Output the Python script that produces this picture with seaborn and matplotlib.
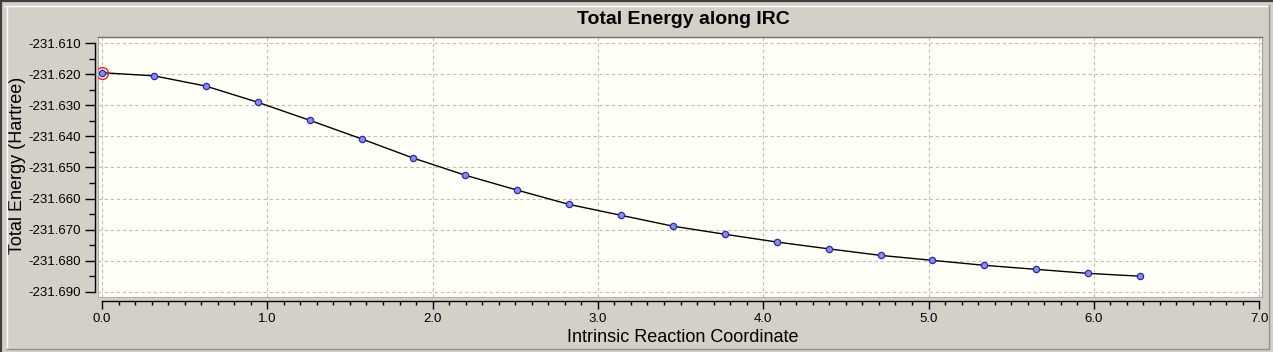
import numpy as np
import pandas as pd
import seaborn as sns
import matplotlib.pyplot as plt
from matplotlib.lines import Line2D
from matplotlib.patches import Rectangle
from matplotlib.ticker import MultipleLocator, FormatStrFormatter

# IRC points
irc_coord = [0.000, 0.314, 0.628, 0.942, 1.256, 1.570, 1.884, 2.198, 2.512, 2.826,
             3.140, 3.454, 3.768, 4.082, 4.396, 4.710, 5.024, 5.338, 5.652, 5.966, 6.280]
energy = [-231.6195, -231.6205, -231.6238, -231.6290, -231.6348, -231.6408, -231.6470,
          -231.6525, -231.6573, -231.6619, -231.6654, -231.6689, -231.6715, -231.6740,
          -231.6762, -231.6783, -231.6799, -231.6815, -231.6828, -231.6841, -231.6850]

df = pd.DataFrame({'coord': irc_coord, 'energy': energy})

sns.set_theme(style='ticks')
plt.rcParams['font.family'] = ['Liberation Sans', 'DejaVu Sans']

W, H = 1273, 352
fig = plt.figure(figsize=(W / 100, H / 100), dpi=100)
fig.patch.set_facecolor('#D4D0C8')

# plot area in pixels: x 98..1262, y 37..297
ax = fig.add_axes([98 / W, 1 - 297 / H, (1262 - 98) / W, (297 - 37) / H])
ax.set_facecolor('#FFFFF8')

sns.lineplot(data=df, x='coord', y='energy', ax=ax, color='black', linewidth=1.0,
             marker='o', markersize=4.5, markerfacecolor='#8C8CF0',
             markeredgecolor='#2A2AA0', markeredgewidth=0.9, zorder=3)
# highlighted current point
ax.plot(df['coord'].iloc[0], df['energy'].iloc[0], marker='o', markersize=8.5,
        markerfacecolor='none', markeredgecolor='#E02020', markeredgewidth=1.0, zorder=4)

ax.set_xlim(-0.0242, 7.0175)
ax.set_ylim(-231.6917, -231.6080)

ax.xaxis.set_major_locator(MultipleLocator(1.0))
ax.xaxis.set_minor_locator(MultipleLocator(0.1))
ax.yaxis.set_major_locator(MultipleLocator(0.010))
ax.yaxis.set_minor_locator(MultipleLocator(0.005))
ax.xaxis.set_major_formatter(FormatStrFormatter('%.1f'))
ax.yaxis.set_major_formatter(FormatStrFormatter('%.3f'))

ax.grid(True, which='major', color='#BEBEBE', linestyle=(0, (3, 2.5)), linewidth=0.8)

ax.spines['left'].set_position(('outward', 2))
ax.spines['bottom'].set_position(('outward', 2.6))
ax.spines['left'].set_bounds(-231.690, -231.610)
ax.spines['bottom'].set_bounds(0, 7)
for s in ['left', 'bottom']:
    ax.spines[s].set_color('black')
    ax.spines[s].set_linewidth(1.0)
ax.spines['top'].set_color('#707070')
ax.spines['right'].set_color('#A0A0A0')
ax.spines['top'].set_linewidth(1.0)
ax.spines['right'].set_linewidth(0.8)
ax.add_patch(Rectangle((0, 0), 1, 1, transform=ax.transAxes, fill=False,
                       edgecolor='#B0B0B0', linewidth=0.8, clip_on=False, zorder=0.5))

ax.tick_params(axis='y', which='major', length=7, width=1.0, pad=3.5, colors='black',
               labelsize=9.5)
ax.tick_params(axis='y', which='minor', length=4.3, width=1.0, color='black')
ax.tick_params(axis='x', which='major', length=6, width=1.0, pad=3, colors='black',
               labelsize=9.5)
ax.tick_params(axis='x', which='minor', length=3, width=1.0, color='black')

ax.set_xlabel('Intrinsic Reaction Coordinate', fontsize=13, color='black', va='center')
ax.set_ylabel('Total Energy (Hartree)', fontsize=13, color='black', va='center')
ax.xaxis.set_label_coords((683 - 98) / 1164, (297 - 338) / 260)
ax.yaxis.set_label_coords((18 - 98) / 1164, (297 - 165) / 260)

fig.text(683 / W, 1 - 19 / H, 'Total Energy along IRC', ha='center', va='center',
         fontsize=14, fontweight='bold', color='black')

# window-like frame
def px_line(x0, y0, x1, y1, color, lw):
    fig.add_artist(Line2D([x0 / W, x1 / W], [1 - y0 / H, 1 - y1 / H],
                          transform=fig.transFigure, color=color, linewidth=lw))

px_line(0, 0.8, W, 0.8, '#404040', 1.6)
px_line(0.8, 0, 0.8, H, '#404040', 1.6)
px_line(4, 5.5, W - 4, 5.5, 'white', 1.0)
px_line(6.5, 5.5, 6.5, H - 4, 'white', 1.0)
px_line(6, H - 3.5, W - 4, H - 3.5, '#909090', 1.0)
px_line(W - 4, 5, W - 4, H - 3.5, '#909090', 1.0)

fig.savefig('out.png', dpi=100, facecolor=fig.get_facecolor())
